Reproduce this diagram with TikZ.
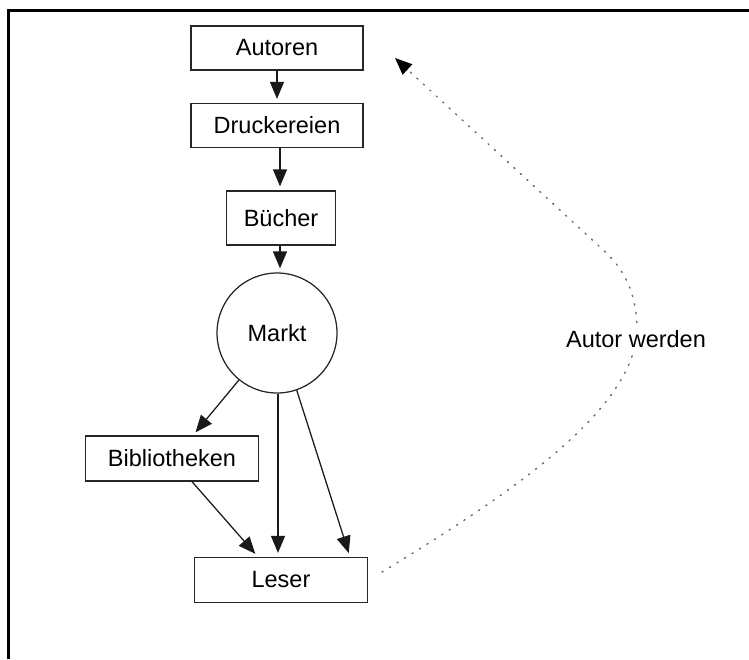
\documentclass[tikz,border=0pt]{standalone}
\usepackage{fontspec}
\setmainfont{Liberation Sans}
\usetikzlibrary{arrows.meta}

\begin{document}
\begin{tikzpicture}[x=1pt, y=-1pt,
  every node/.style={font=\fontsize{23.5}{28}\selectfont, inner sep=0pt, text=black},
  box/.style={draw=black!85, line width=1.25pt, rectangle, minimum width=172pt, minimum height=44pt},
  ring/.style={draw=black!85, line width=1.25pt, circle, minimum size=120pt},
  flow/.style={draw=black!90, line width=1.25pt, -{Triangle[length=17pt, width=14pt]}, shorten >=4pt},
  loopback/.style={draw=black!60, line width=1.4pt, dash pattern=on 1.3pt off 7.5pt, line cap=round,
    -{Triangle[length=17pt, width=14pt, fill=black, color=black]}},
  tag/.style={fill=white, inner xsep=1pt, inner ysep=4pt}]

  \useasboundingbox (0,0) rectangle (749,659);

  % frame (top and left edges)
  \draw[line width=3pt] (8.5,659) -- (8.5,10.5) -- (749,10.5);

  % nodes
  \node[box] (autoren) at (277,48) {Autoren};
  \node[box] (druck) at (277,125.5) {Druckereien};
  \node[box, minimum width=109pt, minimum height=54pt] (buecher) at (281,218) {Bücher};
  \node[ring] (markt) at (277,333) {Markt};
  \node[box, minimum width=173pt, minimum height=45pt] (bib) at (172,458.5) {Bibliotheken};
  \node[box, minimum width=173pt, minimum height=45pt] (leser) at (281,580) {Leser};

  % main flow
  \draw[flow] (autoren.south) -- (druck.north);
  \draw[flow] ([xshift=3pt]druck.south) -- ([xshift=-1pt]buecher.north);
  \draw[flow] ([xshift=-1pt]buecher.south) -- ([xshift=3pt]markt.north);
  \draw[flow] (markt.231) -- ([xshift=21pt]bib.north);
  \draw[flow] ([xshift=1pt]markt.south) -- ([xshift=-3pt]leser.north);
  \draw[flow] (markt.-71) -- ([xshift=69pt]leser.north);
  \draw[flow] ([xshift=20pt]bib.south) -- ([xshift=-23pt]leser.north);

  % dotted feedback loop
  \coordinate (loopstart) at (382,572);
  \coordinate (loopend) at (395,58);
  \draw[loopback] (loopstart) .. controls (500,500) and (640,410) .. (637,325)
    .. controls (635,285) and (620,265) .. (600,247) -- (loopend);
  \node[tag] (werden) at (636,339) {Autor werden};
\end{tikzpicture}
\end{document}
